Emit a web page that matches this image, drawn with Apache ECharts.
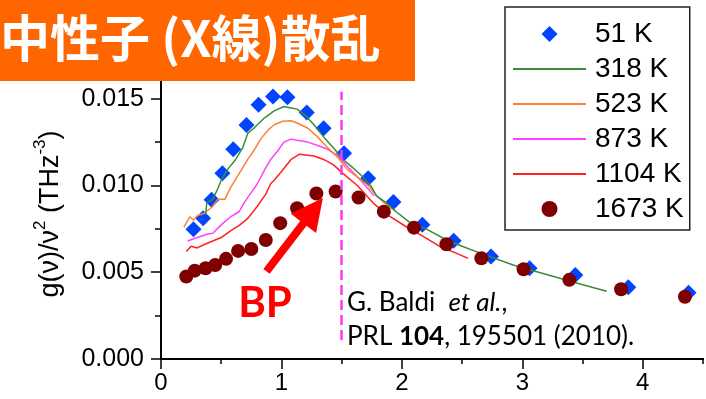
<!DOCTYPE html>
<html><head><meta charset="utf-8">
<script src="https://cdn.jsdelivr.net/npm/echarts@6/dist/echarts.min.js"></script>
<style>html,body{margin:0;padding:0;background:#fff}#c{width:706px;height:399px}</style>
</head><body><div id="c"></div>
<script>
// ---- data ----
const xTickValues = [0, 1, 2, 3, 4];
const yTickValues = [0, 0.005, 0.010, 0.015];
const seriesNames = ['51 K', '318 K', '523 K', '873 K', '1104 K', '1673 K'];

const x51 = [0.27, 0.35, 0.42, 0.51, 0.60, 0.71, 0.81, 0.93, 1.05, 1.21, 1.35, 1.52, 1.72, 1.93, 2.17, 2.43, 2.74, 3.06, 3.44, 3.88, 4.38];
const y51 = [0.00748, 0.00811, 0.00917, 0.01071, 0.01209, 0.01349, 0.01465, 0.01513, 0.01509, 0.01420, 0.01330, 0.01185, 0.01042, 0.00905, 0.00773, 0.00682, 0.00590, 0.00523, 0.00484, 0.00413, 0.00382];

const x318 = [0.37, 0.38, 0.43, 0.47, 0.50, 0.55, 0.62, 0.68, 0.72, 0.77, 0.86, 0.94, 1.02, 1.08, 1.13, 1.19, 1.27, 1.35, 1.44, 1.51, 1.58, 1.66, 1.74, 1.79, 1.87, 1.95, 2.06, 2.20, 2.36, 2.50, 2.65, 2.93, 3.26, 3.51, 3.70];
const y318 = [0.0083, 0.0090, 0.0092, 0.0098, 0.0103, 0.0109, 0.0115, 0.0122, 0.0130, 0.0133, 0.0139, 0.0143, 0.01455, 0.01446, 0.0144, 0.0141, 0.0135, 0.0128, 0.0121, 0.0115, 0.0111, 0.0106, 0.0100, 0.0094, 0.0090, 0.0085, 0.0079, 0.0075, 0.0069, 0.0065, 0.0061, 0.0054, 0.00475, 0.00427, 0.0039];

const x523 = [0.19, 0.24, 0.27, 0.30, 0.36, 0.43, 0.47, 0.53, 0.58, 0.65, 0.72, 0.77, 0.83, 0.89, 0.94, 1.01, 1.08, 1.13, 1.22, 1.30, 1.38, 1.47, 1.55, 1.63, 1.72, 1.79, 1.87, 1.95];
const y523 = [0.0076, 0.0082, 0.0080, 0.00825, 0.0084, 0.0088, 0.0092, 0.0092, 0.0099, 0.0107, 0.0115, 0.0120, 0.0127, 0.0132, 0.0135, 0.0137, 0.01373, 0.0136, 0.0133, 0.0128, 0.0122, 0.0116, 0.0109, 0.0105, 0.0100, 0.0094, 0.0089, 0.0085];

const x873 = [0.22, 0.30, 0.39, 0.43, 0.51, 0.58, 0.65, 0.69, 0.75, 0.80, 0.86, 0.91, 0.97, 1.02, 1.08, 1.13, 1.22, 1.30, 1.38, 1.47, 1.56, 1.67, 1.77];
const y873 = [0.0068, 0.0070, 0.0072, 0.00725, 0.0078, 0.0082, 0.0085, 0.0090, 0.0096, 0.0101, 0.0109, 0.0115, 0.0120, 0.0125, 0.01267, 0.0126, 0.0125, 0.0123, 0.0121, 0.0117, 0.0110, 0.0102, 0.0094];

const x1104 = [0.21, 0.25, 0.30, 0.36, 0.43, 0.50, 0.58, 0.65, 0.72, 0.80, 0.87, 0.91, 0.94, 1.00, 1.08, 1.15, 1.27, 1.35, 1.43, 1.51, 1.63, 1.76, 1.88, 2.03, 2.17, 2.31, 2.45, 2.55];
const y1104 = [0.0062, 0.0065, 0.0064, 0.0066, 0.0068, 0.0070, 0.0074, 0.0077, 0.0081, 0.0088, 0.0095, 0.0101, 0.0103, 0.0108, 0.0115, 0.0118, 0.0117, 0.0115, 0.0112, 0.0107, 0.0100, 0.0090, 0.0083, 0.00765, 0.0071, 0.0065, 0.0061, 0.0058];

const x1673 = [0.21, 0.28, 0.37, 0.45, 0.54, 0.64, 0.75, 0.87, 0.99, 1.13, 1.29, 1.45, 1.64, 1.85, 2.10, 2.37, 2.66, 3.01, 3.39, 3.82, 4.35];
const y1673 = [0.00475, 0.00509, 0.00523, 0.00542, 0.00577, 0.00623, 0.00634, 0.00686, 0.00783, 0.00869, 0.00954, 0.00965, 0.00931, 0.00849, 0.00757, 0.00661, 0.00581, 0.00517, 0.00456, 0.00402, 0.00359];

const bpLineX = [1.5, 1.5];
const bpLineY = [0.0011, 0.0154];
const arrowTail = [0.876, 0.00505];
const arrowTip = [1.344, 0.00928];

// ---- helpers ----
const pairs = (xs, ys) => xs.map((x, i) => [x, ys[i]]);
const FONT = 'Liberation Sans, Arial, sans-serif';
const isMult = (v, step) => Math.abs(v / step - Math.round(v / step)) < 1e-6;
const COLORS = {'51 K': '#0044FF', '318 K': '#3A8C3A', '523 K': '#FF8030', '873 K': '#FF40FF', '1104 K': '#FF2020', '1673 K': '#7F0000'};
const LINE_NAMES = ['318 K', '523 K', '873 K', '1104 K'];

const chart = echarts.init(document.getElementById('c'), null, {renderer: 'canvas'});

const axisLineStyle = {show: true, lineStyle: {color: '#000', width: 2}};

const legendData = seriesNames.map(n => {
  if (n === '51 K') return {name: n, icon: 'path://M0,-1L1,0L0,1L-1,0Z'};
  if (n === '1673 K') return {name: n, icon: 'path://M1,0A1,1,0,1,1,-1,0A1,1,0,1,1,1,0Z'};
  return {name: n, itemStyle: {color: 'rgba(0,0,0,0)', borderWidth: 0}};
});

const lineSeries = LINE_NAMES.slice().reverse().map(n => {
  const src = {'318 K': [x318, y318], '523 K': [x523, y523], '873 K': [x873, y873], '1104 K': [x1104, y1104]}[n];
  return {name: n, type: 'line', data: pairs(src[0], src[1]), symbol: 'none', showSymbol: false,
    lineStyle: {color: COLORS[n], width: 1.5}, itemStyle: {color: COLORS[n]}, z: 3};
});

const option = {
  animation: false,
  backgroundColor: '#fff',
  grid: {left: 161, right: 3, top: 64, bottom: 40, containLabel: false},
  xAxis: [
    {type: 'value', position: 'bottom', min: 0, max: 4.5, interval: 0.5,
     axisLine: axisLineStyle,
     axisTick: {show: true, length: 5, inside: false, lineStyle: {color: '#000', width: 1.5}},
     axisLabel: {show: true, fontSize: 24, fontFamily: FONT, color: '#000', margin: 12,
       formatter: v => isMult(v, 1) && v <= 4 ? String(Math.round(v)) : ''},
     splitLine: {show: false}},
    {type: 'value', position: 'bottom', min: 0, max: 4.5, interval: 0.5,
     axisLine: {show: false},
     axisTick: {show: true, length: 10, inside: false, customValues: xTickValues, lineStyle: {color: '#000', width: 1.5}},
     axisLabel: {show: false}, splitLine: {show: false}},
    {type: 'value', position: 'top', min: 0, max: 4.5, interval: 0.5,
     axisLine: axisLineStyle,
     axisTick: {show: true, length: 5, inside: true, lineStyle: {color: '#000', width: 1.5}},
     axisLabel: {show: false}, splitLine: {show: false}}
  ],
  yAxis: [
    {type: 'value', position: 'left', min: 0, max: 0.017, interval: 0.0025,
     axisLine: axisLineStyle,
     axisTick: {show: true, length: 6, inside: false, lineStyle: {color: '#000', width: 1.5}},
     axisLabel: {show: true, fontSize: 25, fontFamily: FONT, color: '#000', margin: 17,
       formatter: v => isMult(v, 0.005) && v <= 0.0151 ? v.toFixed(3) : ''},
     splitLine: {show: false}},
    {type: 'value', position: 'left', min: 0, max: 0.017, interval: 0.0025,
     axisLine: {show: false},
     axisTick: {show: true, length: 10, inside: false, customValues: yTickValues, lineStyle: {color: '#000', width: 1.5}},
     axisLabel: {show: false}, splitLine: {show: false}},
    {type: 'value', position: 'right', min: 0, max: 0.017, interval: 0.0025,
     axisLine: axisLineStyle,
     axisTick: {show: true, length: 5, inside: true, lineStyle: {color: '#000', width: 1.5}},
     axisLabel: {show: false}, splitLine: {show: false}}
  ],
  legend: {
    orient: 'vertical', left: 505, top: 7, padding: [12, 6, 6, 7], itemGap: 5,
    itemWidth: 73, itemHeight: 16, backgroundColor: '#fff', borderColor: '#222', borderWidth: 1.5,
    borderRadius: 0, symbolKeepAspect: true,
    textStyle: {fontSize: 28, fontFamily: FONT, color: '#000', lineHeight: 30, padding: [0, 0, 0, 4]},
    data: legendData, z: 10, selectedMode: false
  },
  series: [
    {name: '51 K', type: 'scatter', data: pairs(x51, y51), symbol: 'diamond', symbolSize: 16,
     itemStyle: {color: COLORS['51 K'], opacity: 1}, z: 2},
    ...lineSeries,
    {name: '1673 K', type: 'scatter', data: pairs(x1673, y1673), symbol: 'circle', symbolSize: 14,
     itemStyle: {color: COLORS['1673 K'], opacity: 1}, z: 4,
     markLine: {silent: true, symbol: ['none', 'none'], label: {show: false}, animation: false,
       lineStyle: {color: '#FF33FF', width: 2.5, type: [10, 5], opacity: 1},
       data: [[{coord: [bpLineX[0], bpLineY[0]]}, {coord: [bpLineX[1], bpLineY[1]]}]]}}
  ]
};
chart.setOption(option);

// arrow built from data coordinates through the chart's scales
const T = chart.convertToPixel({xAxisIndex: 0, yAxisIndex: 0}, arrowTail);
const P = chart.convertToPixel({xAxisIndex: 0, yAxisIndex: 0}, arrowTip);
const dx = P[0] - T[0], dy = P[1] - T[1], len = Math.hypot(dx, dy);
const ux = dx / len, uy = dy / len, nx = -uy, ny = ux;
const HL = 32, HW = 16, SW = 4;
const B = [P[0] - ux * HL, P[1] - uy * HL];
const arrowPts = [
  [T[0] + nx * SW, T[1] + ny * SW], [B[0] + nx * SW, B[1] + ny * SW], [B[0] + nx * HW, B[1] + ny * HW],
  P, [B[0] - nx * HW, B[1] - ny * HW], [B[0] - nx * SW, B[1] - ny * SW], [T[0] - nx * SW, T[1] - ny * SW]
];

chart.setOption({
  graphic: [
    {type: 'rect', id: 'banner', left: 0, top: 0, shape: {width: 415, height: 81}, style: {fill: '#FF6600'}, z: 100},
    {type: 'text', id: 'title', x: 0, y: 38, z: 101,
     style: {text: '中性子 (X線)散乱', fill: '#fff', font: 'bold 50px "Noto Sans CJK JP"',
       textAlign: 'left', textVerticalAlign: 'middle'}},
    {type: 'text', id: 'yname', x: 48, y: 214, rotation: Math.PI / 2, z: 50,
     style: {text: '{a|g(ν)/ν}{s|2}{a| (THz}{s|-3}{a|)}', textAlign: 'center', textVerticalAlign: 'middle',
       rich: {a: {fontSize: 27, fontFamily: FONT, fill: '#000', lineHeight: 32, verticalAlign: 'bottom'},
              s: {fontSize: 17, fontFamily: FONT, fill: '#000', lineHeight: 32, verticalAlign: 'top'}}}},
    {type: 'polygon', id: 'arrow', z: 60, shape: {points: arrowPts}, style: {fill: '#FF0000'}},
    {type: 'text', id: 'bp', x: 265, y: 303, z: 60,
     style: {text: 'BP', fill: '#FF0000', font: 'bold 42px Lato', textAlign: 'center', textVerticalAlign: 'middle'}},
    {type: 'text', id: 'ref1', x: 347, y: 303, z: 60,
     style: {text: '{n|G. Baldi  }{i|et al.}{n|,}', textAlign: 'left', textVerticalAlign: 'middle',
       rich: {n: {fontSize: 26, fontFamily: 'Lato', fill: '#000'},
              i: {fontSize: 26, fontFamily: 'Lato', fontStyle: 'italic', fill: '#000'}}}},
    {type: 'text', id: 'ref2', x: 347, y: 337, z: 60,
     style: {text: '{n|PRL }{b|104}{n|, 195501 (2010).}', textAlign: 'left', textVerticalAlign: 'middle',
       rich: {n: {fontSize: 26, fontFamily: 'Lato', fill: '#000'},
              b: {fontSize: 26, fontFamily: 'Lato', fontWeight: 'bold', fill: '#000'}}}}
  ]
});
</script>
</body></html>
